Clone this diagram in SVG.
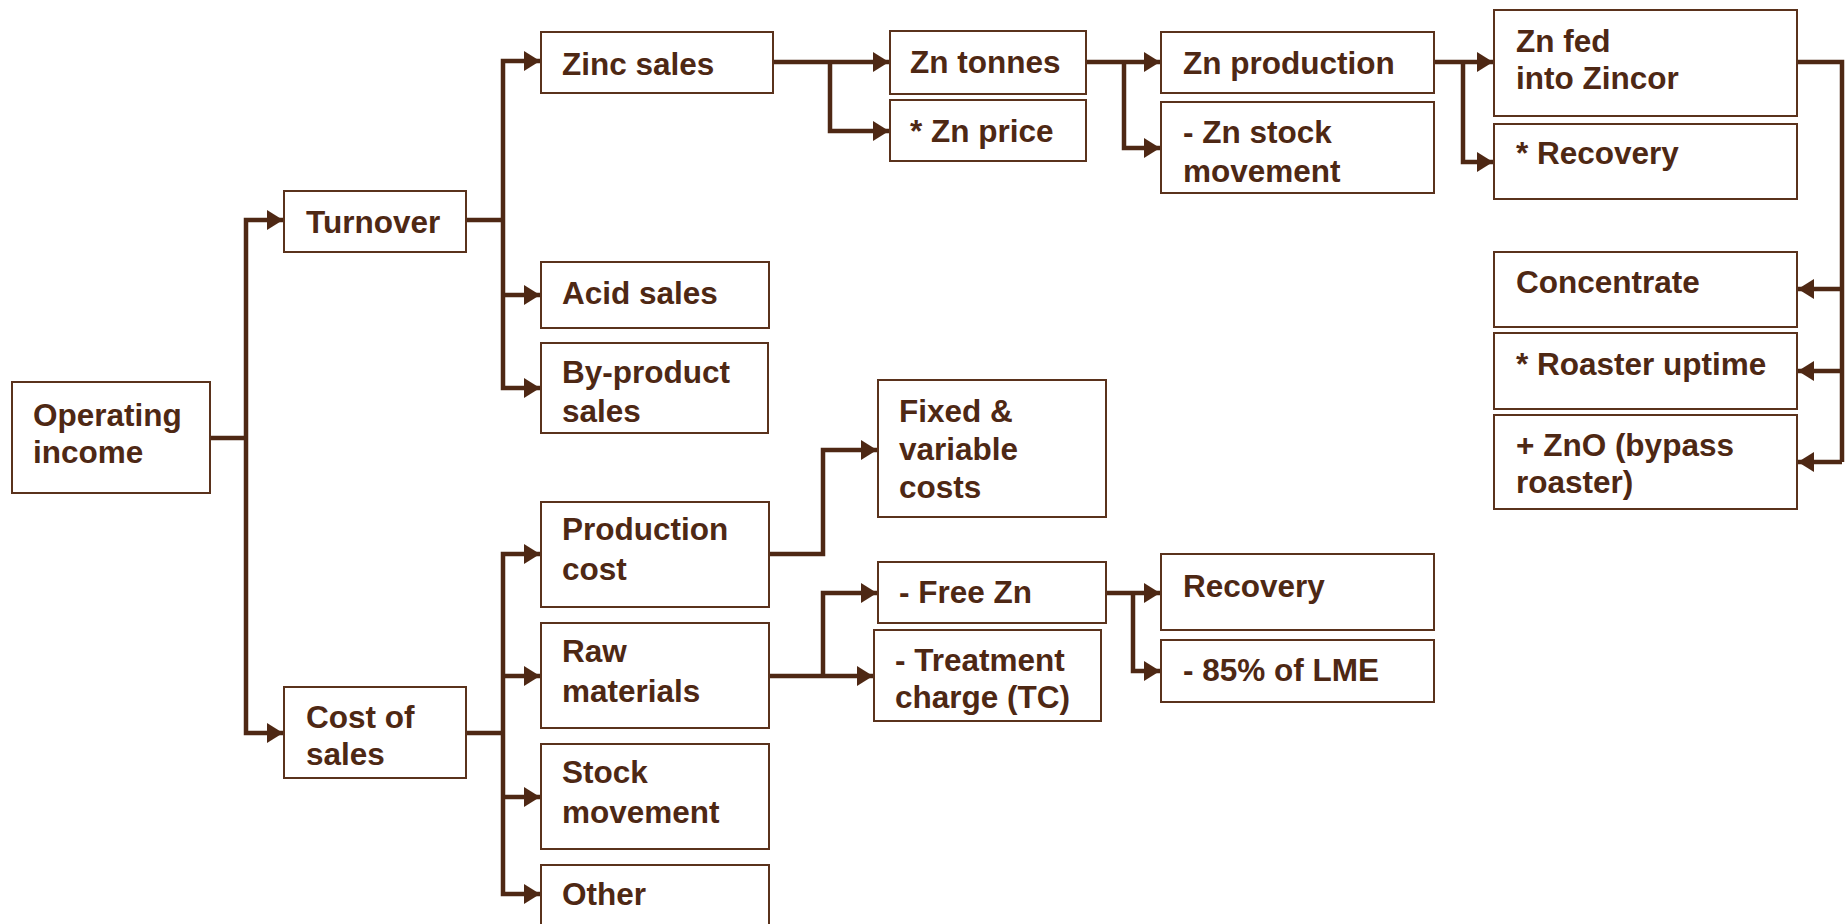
<svg xmlns="http://www.w3.org/2000/svg" width="1845" height="924" viewBox="0 0 1845 924">
<defs>
<style>
.box{fill:#ffffff;stroke:#5a321c;stroke-width:2}
.t{font-family:"Liberation Sans",Arial,sans-serif;font-weight:bold;font-size:31.5px;fill:#4e2814}
.c{fill:none;stroke:#4e2814;stroke-width:4.5;marker-end:url(#ah)}
.l{fill:none;stroke:#4e2814;stroke-width:4.5}
</style>
<marker id="ah" markerUnits="userSpaceOnUse" markerWidth="17" markerHeight="20" refX="16" refY="10" orient="auto">
<path d="M0,0 L16,10 L0,20 Z" fill="#4e2814"/>
</marker>
</defs>
<rect width="1845" height="924" fill="#ffffff"/>
<g id="connectors">
<path class="l" d="M210,438 H246"/>
<path class="c" d="M246,438 V220 H283"/>
<path class="c" d="M246,438 V733 H283"/>
<path class="l" d="M466,220 H503"/>
<path class="c" d="M503,220 V61 H540"/>
<path class="c" d="M503,220 V388 H540"/>
<path class="c" d="M503,295 H540"/>
<path class="c" d="M773,62 H889"/>
<path class="c" d="M830,62 V131 H889"/>
<path class="c" d="M1086,62 H1160"/>
<path class="c" d="M1124,62 V148 H1160"/>
<path class="c" d="M1434,62 H1493"/>
<path class="c" d="M1463,62 V162 H1493"/>
<path class="l" d="M1797,62 H1842 V462"/>
<path class="c" d="M1842,462 H1798"/>
<path class="c" d="M1842,289 H1798"/>
<path class="c" d="M1842,371 H1798"/>
<path class="l" d="M466,733 H503"/>
<path class="c" d="M503,733 V554 H540"/>
<path class="c" d="M503,733 V894 H540"/>
<path class="c" d="M503,676 H540"/>
<path class="c" d="M503,797 H540"/>
<path class="c" d="M769,554 H823 V450 H877"/>
<path class="c" d="M769,676 H873"/>
<path class="c" d="M823,676 V593 H877"/>
<path class="c" d="M1106,593 H1160"/>
<path class="c" d="M1133,593 V671 H1160"/>
</g>
<g id="operating-income"><rect class="box" x="12" y="382" width="198" height="111"/><text class="t" x="33" y="426">Operating</text><text class="t" x="33" y="463">income</text></g>
<g id="turnover"><rect class="box" x="284" y="191" width="182" height="61"/><text class="t" x="306" y="233">Turnover</text></g>
<g id="zinc-sales"><rect class="box" x="541" y="32" width="232" height="61"/><text class="t" x="562" y="75">Zinc sales</text></g>
<g id="acid-sales"><rect class="box" x="541" y="262" width="228" height="66"/><text class="t" x="562" y="304">Acid sales</text></g>
<g id="by-product-sales"><rect class="box" x="541" y="343" width="227" height="90"/><text class="t" x="562" y="383">By-product</text><text class="t" x="562" y="422">sales</text></g>
<g id="zn-tonnes"><rect class="box" x="890" y="31" width="196" height="63"/><text class="t" x="910" y="73">Zn tonnes</text></g>
<g id="zn-price"><rect class="box" x="890" y="100" width="196" height="61"/><text class="t" x="910" y="142">* Zn price</text></g>
<g id="zn-production"><rect class="box" x="1161" y="32" width="273" height="61"/><text class="t" x="1183" y="74">Zn production</text></g>
<g id="zn-stock-movement"><rect class="box" x="1161" y="102" width="273" height="91"/><text class="t" x="1183" y="143">- Zn stock</text><text class="t" x="1183" y="182">movement</text></g>
<g id="zn-fed"><rect class="box" x="1494" y="10" width="303" height="106"/><text class="t" x="1516" y="52">Zn fed</text><text class="t" x="1516" y="89">into Zincor</text></g>
<g id="recovery-top"><rect class="box" x="1494" y="124" width="303" height="75"/><text class="t" x="1516" y="164">* Recovery</text></g>
<g id="concentrate"><rect class="box" x="1494" y="252" width="303" height="75"/><text class="t" x="1516" y="293">Concentrate</text></g>
<g id="roaster-uptime"><rect class="box" x="1494" y="333" width="303" height="76"/><text class="t" x="1516" y="375">* Roaster uptime</text></g>
<g id="zno"><rect class="box" x="1494" y="415" width="303" height="94"/><text class="t" x="1516" y="456">+ ZnO (bypass</text><text class="t" x="1516" y="493">roaster)</text></g>
<g id="fixed-variable-costs"><rect class="box" x="878" y="380" width="228" height="137"/><text class="t" x="899" y="422">Fixed &amp;</text><text class="t" x="899" y="460">variable</text><text class="t" x="899" y="498">costs</text></g>
<g id="cost-of-sales"><rect class="box" x="284" y="687" width="182" height="91"/><text class="t" x="306" y="728">Cost of</text><text class="t" x="306" y="765">sales</text></g>
<g id="production-cost"><rect class="box" x="541" y="502" width="228" height="105"/><text class="t" x="562" y="540">Production</text><text class="t" x="562" y="580">cost</text></g>
<g id="raw-materials"><rect class="box" x="541" y="623" width="228" height="105"/><text class="t" x="562" y="662">Raw</text><text class="t" x="562" y="702">materials</text></g>
<g id="stock-movement"><rect class="box" x="541" y="744" width="228" height="105"/><text class="t" x="562" y="783">Stock</text><text class="t" x="562" y="823">movement</text></g>
<g id="other"><rect class="box" x="541" y="865" width="228" height="80"/><text class="t" x="562" y="905">Other</text></g>
<g id="free-zn"><rect class="box" x="878" y="562" width="228" height="61"/><text class="t" x="899" y="603">- Free Zn</text></g>
<g id="treatment-charge"><rect class="box" x="874" y="630" width="227" height="91"/><text class="t" x="895" y="671">- Treatment</text><text class="t" x="895" y="708">charge (TC)</text></g>
<g id="recovery-bottom"><rect class="box" x="1161" y="554" width="273" height="76"/><text class="t" x="1183" y="597">Recovery</text></g>
<g id="lme"><rect class="box" x="1161" y="640" width="273" height="62"/><text class="t" x="1183" y="681">- 85% of LME</text></g>
</svg>
